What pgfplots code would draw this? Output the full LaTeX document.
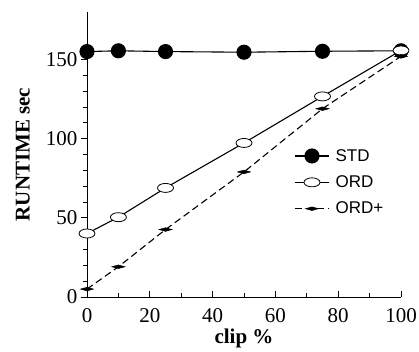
\documentclass[border=0pt]{standalone}
\usepackage{fontspec}
\setmainfont{Liberation Serif}
\newfontfamily\arial{Liberation Sans}
\usepackage{pgfplots}
\pgfplotsset{compat=1.18}
\pgfdeclareplotmark{ellip}{%
  \pgfpathellipse{\pgfpointorigin}{\pgfqpoint{8pt}{0pt}}{\pgfqpoint{0pt}{4.5pt}}%
  \pgfusepathqfillstroke}
\pgfdeclareplotmark{flatdia}{%
  \pgfpathmoveto{\pgfqpoint{-6.5pt}{0pt}}%
  \pgfpathlineto{\pgfqpoint{0pt}{1.8pt}}%
  \pgfpathlineto{\pgfqpoint{6.5pt}{0pt}}%
  \pgfpathlineto{\pgfqpoint{0pt}{-1.8pt}}%
  \pgfpathclose\pgfusepathqfillstroke}
\begin{document}
\begin{tikzpicture}
\begin{axis}[
  at={(0,0)}, anchor=south west,
  scale only axis, width=314pt, height=285pt,
  xmin=0, xmax=100, ymin=0, ymax=180,
  axis x line*=bottom, axis y line*=left,
  axis line style={line width=0.9pt},
  xtick={0,20,40,60,80,100}, minor x tick num=1,
  ytick={0,50,100,150}, minor y tick num=4,
  tick align=outside,
  major tick length=6pt, minor tick length=4pt,
  every tick/.append style={line width=0.8pt, black},
  every major x tick/.append style={yshift=6pt},
  every minor x tick/.append style={yshift=4pt},
  /pgf/number format/assume math mode=true,
  tick label style={font=\fontsize{21}{25}\selectfont},
  xticklabel style={yshift=-2pt},
  xlabel={\textbf{clip \%}}, ylabel={\textbf{RUNTIME sec}},
  label style={font=\fontsize{21}{25}\selectfont},
  xlabel style={at={(axis description cs:0.5,-0.144)}, anchor=center},
  ylabel style={at={(axis description cs:-0.204,0.5)}, anchor=center},
  clip=false,
  legend style={at={(axis description cs:0.66,0.526)}, anchor=north west,
    draw=none, fill=none, font=\arial\fontsize{17}{20}\selectfont,
    row sep=9pt, column sep=4pt, inner sep=0pt},
  legend cell align=left,
  legend image code/.code={%
    \draw[mark repeat=2,mark phase=2,#1] plot coordinates {(0pt,0pt) (17pt,0pt) (34pt,0pt)};},
]
\addplot[black, line width=1.1pt, mark=*, mark size=7pt] coordinates {
  (0,155) (10,155.5) (25,155) (50,154.6) (75,155.2) (100,155.5)};
\addlegendentry{STD}
\addplot[black, line width=1.1pt, mark=ellip, mark options={fill=white, line width=0.8pt}] coordinates {
  (0,40.1) (10,50.4) (25,68.9) (50,97.3) (75,126.7) (100,155.7)};
\addlegendentry{ORD}
\addplot[black, line width=1.1pt, dash pattern=on 7pt off 4pt, mark=flatdia, mark options={solid, fill=black, line width=0.5pt}] coordinates {
  (0,5) (10,19.1) (25,42.6) (50,79) (75,118.9) (100,152)};
\addlegendentry{ORD+}
\end{axis}
\pgfresetboundingbox
\path (-87pt,-55pt) rectangle (332pt,297pt);
\end{tikzpicture}
\end{document}
